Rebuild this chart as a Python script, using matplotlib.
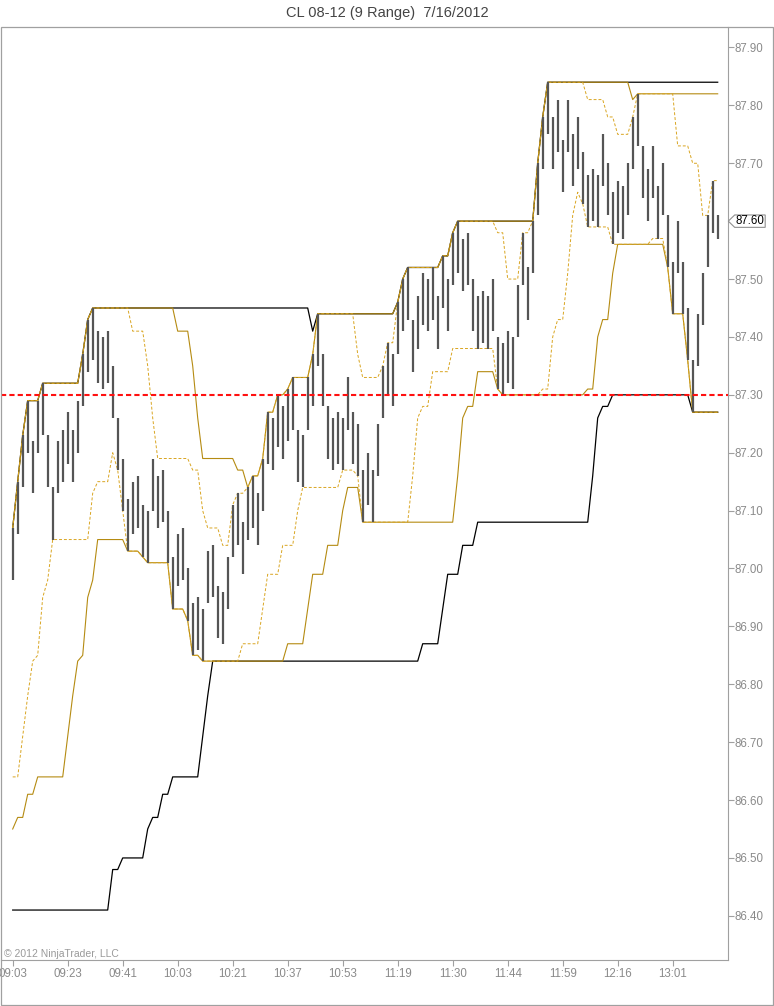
import numpy as np
import pandas as pd
import matplotlib
matplotlib.use("Agg")
import matplotlib.pyplot as plt
import matplotlib.transforms as mtrans
from matplotlib.patches import Rectangle, Polygon

title = "CL 08-12 (9 Range)  7/16/2012"
copyright_text = "\u00a9 2012 NinjaTrader, LLC"

# 9 tick range bars (low / high)
lows = [86.98, 87.06, 87.14, 87.20, 87.13, 87.20, 87.23, 87.14, 87.05, 87.13,
        87.15, 87.18, 87.15, 87.20, 87.28, 87.34, 87.36, 87.32, 87.31, 87.32,
        87.26, 87.17, 87.10, 87.03, 87.06, 87.07, 87.02, 87.01, 87.10, 87.07,
        87.08, 87.01, 86.93, 86.97, 86.98, 86.91, 86.85, 86.86, 86.84, 86.94,
        86.95, 86.88, 86.87, 86.93, 87.02, 87.04, 86.99, 87.05, 87.07, 87.04,
        87.10, 87.18, 87.17, 87.21, 87.19, 87.22, 87.24, 87.15, 87.14, 87.24,
        87.28, 87.35, 87.28, 87.19, 87.17, 87.18, 87.17, 87.24, 87.18, 87.16,
        87.08, 87.11, 87.08, 87.16, 87.26, 87.30, 87.28, 87.37, 87.41, 87.43,
        87.34, 87.38, 87.42, 87.41, 87.43, 87.38, 87.45, 87.41, 87.49, 87.51,
        87.48, 87.49, 87.41, 87.38, 87.39, 87.38, 87.41, 87.31, 87.30, 87.32,
        87.31, 87.40, 87.49, 87.43, 87.51, 87.61, 87.69, 87.75, 87.69, 87.72,
        87.65, 87.72, 87.66, 87.69, 87.63, 87.59, 87.60, 87.59, 87.66, 87.61,
        87.56, 87.58, 87.57, 87.61, 87.69, 87.73, 87.64, 87.60, 87.64, 87.57,
        87.61, 87.52, 87.44, 87.51, 87.44, 87.36, 87.27, 87.35, 87.42, 87.52,
        87.58, 87.57]
highs = [87.07, 87.15, 87.23, 87.29, 87.22, 87.29, 87.32, 87.23, 87.14, 87.22,
         87.24, 87.27, 87.24, 87.29, 87.37, 87.43, 87.45, 87.41, 87.40, 87.41,
         87.35, 87.26, 87.19, 87.12, 87.15, 87.16, 87.11, 87.10, 87.19, 87.16,
         87.17, 87.10, 87.02, 87.06, 87.07, 87.00, 86.94, 86.95, 86.93, 87.03,
         87.04, 86.97, 86.96, 87.02, 87.11, 87.13, 87.08, 87.14, 87.16, 87.13,
         87.19, 87.27, 87.26, 87.30, 87.28, 87.31, 87.33, 87.24, 87.23, 87.33,
         87.37, 87.44, 87.37, 87.28, 87.26, 87.27, 87.26, 87.33, 87.27, 87.25,
         87.17, 87.20, 87.17, 87.25, 87.35, 87.39, 87.37, 87.46, 87.50, 87.52,
         87.43, 87.47, 87.51, 87.50, 87.52, 87.47, 87.54, 87.50, 87.58, 87.60,
         87.57, 87.58, 87.50, 87.47, 87.48, 87.47, 87.50, 87.40, 87.39, 87.41,
         87.40, 87.49, 87.58, 87.52, 87.60, 87.70, 87.78, 87.84, 87.78, 87.81,
         87.74, 87.81, 87.75, 87.78, 87.72, 87.68, 87.69, 87.68, 87.75, 87.70,
         87.65, 87.67, 87.66, 87.70, 87.78, 87.82, 87.73, 87.69, 87.73, 87.66,
         87.70, 87.61, 87.53, 87.60, 87.53, 87.45, 87.36, 87.44, 87.51, 87.61,
         87.67, 87.61]

# lower channel values at the open (still holding lows of the previous session)
open_dn8 = [86.64, 86.64, 86.71, 86.78, 86.84, 86.85, 86.95]
open_dn17 = [86.55, 86.57, 86.57, 86.61, 86.61, 86.64, 86.64, 86.64, 86.64,
             86.64, 86.64, 86.71, 86.78, 86.84, 86.85, 86.95]
open_dn44 = ([86.41] * 20 + [86.48, 86.48] + [86.50] * 5 +
             [86.55, 86.57, 86.57, 86.61, 86.61] + [86.64] * 6 +
             [86.71, 86.78, 86.84])

time_labels = ["09:03", "09:23", "09:41", "10:03", "10:21", "10:37", "10:53",
               "11:19", "11:30", "11:44", "11:59", "12:16", "13:01"]
label_bars = [0, 11, 22, 33, 44, 55, 66, 77, 88, 99, 110, 121, 132]
ref_level = 87.30
last_price = 87.60

hi = pd.Series(highs)
lo = pd.Series(lows)
x = np.arange(len(lows))


def channel(n, open_vals):
    up = hi.rolling(n, min_periods=1).max().to_numpy()
    dn = lo.rolling(n, min_periods=1).min().to_numpy()
    k = len(open_vals)
    dn[:k] = np.minimum(dn[:k], open_vals)
    return up, dn


up8, dn8 = channel(8, open_dn8)
up17, dn17 = channel(17, open_dn17)
up44, dn44 = channel(44, open_dn44)

W, H = 774, 1006
fig = plt.figure(figsize=(W / 100, H / 100), dpi=100)
plt.rcParams['font.family'] = ['Liberation Sans', 'DejaVu Sans']

ax_l, ax_r, ax_t, ax_b = 1, 727.7, 27, 960
ax = fig.add_axes([ax_l / W, 1 - ax_b / H, (ax_r - ax_l) / W, (ax_b - ax_t) / H])

gold = '#b58b12'
gold_d = '#d9a521'
grey = '#a0a0a0'

ax.plot(x, up44, color='black', lw=0.9, zorder=2)
ax.plot(x, dn44, color='black', lw=0.9, zorder=2)
ax.plot(x, up17, color=gold, lw=0.8, zorder=3)
ax.plot(x, dn17, color=gold, lw=0.8, zorder=3)
ax.plot(x, up8, color=gold_d, lw=0.7, ls=(0, (3, 2)), zorder=3)
ax.plot(x, dn8, color=gold_d, lw=0.7, ls=(0, (3, 2)), zorder=3)
ax.vlines(x, lows, highs, color='#555555', lw=1.6, zorder=4)
ax.axhline(ref_level, color='#ff1010', lw=1.5, ls=(0, (2.5, 1.5)), zorder=5)

ax.set_xlim(-2.34, 143.0)
ax.set_ylim(86.3237, 87.9354)

ax.spines['left'].set_visible(False)
ax.spines['top'].set_visible(False)
ax.spines['right'].set_color(grey)
ax.spines['bottom'].set_color(grey)

ax.yaxis.tick_right()
price_ticks = np.round(np.arange(86.40, 87.95, 0.10), 2)
ax.set_yticks(price_ticks)
ax.set_yticklabels(["%.2f" % p for p in price_ticks])
ax.tick_params(axis='y', colors=grey, labelcolor='#8a8a8a', length=4, width=0.8,
               labelsize=8.3, pad=1)
ax.set_xticks(label_bars)
ax.set_xticklabels(time_labels)
ax.tick_params(axis='x', colors=grey, labelcolor='#8a8a8a', length=4.5, width=0.8,
               labelsize=8.3, pad=1.5)

# last price tag, offsets in inches from the right axis at the last price
anchor = mtrans.blended_transform_factory(ax.transAxes, ax.transData)
tag_tr = fig.dpi_scale_trans + mtrans.ScaledTranslation(1.0, last_price, anchor)
tag = Polygon([(0.006, 0), (0.07, 0.062), (0.375, 0.062), (0.375, -0.062), (0.07, -0.062)],
              closed=True, transform=tag_tr, facecolor='white', edgecolor='#909090',
              lw=0.8, clip_on=False, zorder=10)
fig.patches.append(tag)
fig.text(0.222, 0.0, "%.2f" % last_price, transform=tag_tr,
         fontsize=8.3, color='black', ha='center', va='center', zorder=11)

# frame round the whole chart
fig.patches.append(Rectangle((1 / W, 1 - 1005 / H), 772 / W, 978 / H,
                             transform=fig.transFigure, fill=False,
                             edgecolor=grey, lw=0.9))

fig.text(0.5, 1 - 13 / H, title, ha='center', va='center', fontsize=10.5, color='#444444')
ax.text(2.5 / (ax_r - ax_l), 6 / (ax_b - ax_t), copyright_text, transform=ax.transAxes,
        ha='left', va='center', fontsize=7.5, color='#9a9a9a')

fig.savefig("out.png", dpi=100)
